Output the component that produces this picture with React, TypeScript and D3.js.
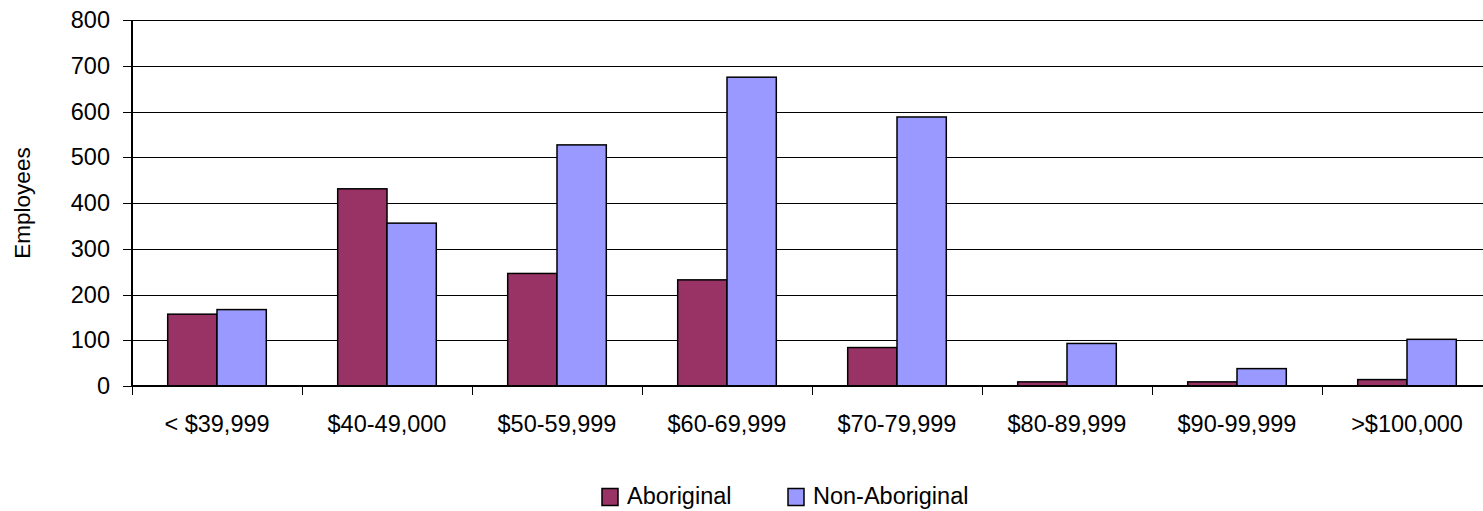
import React from "react";
import * as d3 from "d3";

const categories = ["< $39,999", "$40-49,000", "$50-59,999", "$60-69,999", "$70-79,999", "$80-89,999", "$90-99,999", ">$100,000"];
const aboriginal = [157, 431, 246, 232, 84, 9, 9, 14];
const nonAboriginal = [167, 356, 527, 675, 588, 93, 38, 102];
const yTicks = [0, 100, 200, 300, 400, 500, 600, 700, 800];
const seriesNames = ["Aboriginal", "Non-Aboriginal"];
const seriesColors = ["#993366", "#9999FF"];

export default function App() {
  const W = 1483, H = 511;
  const left = 132, top = 20, bottom = 386;
  const catW = 170;
  const fs = 23.5;
  const x = d3.scaleBand<string>().domain(categories).range([left, left + catW * categories.length]).paddingInner(0).paddingOuter(0);
  const y = d3.scaleLinear().domain([0, 800]).range([bottom, top]);
  const barW = x.bandwidth() * 0.29;
  const font = "'Liberation Sans', Arial, sans-serif";
  const series = [aboriginal, nonAboriginal];
  const plotRight = left + catW * categories.length;
  return (
    <svg width={W} height={H} style={{ position: "absolute", left: 0, top: 0, background: "#fff" }} fontFamily={font}>
      {yTicks.map((t) => (
        <g key={t}>
          {t > 0 && <line x1={left} x2={plotRight} y1={Math.round(y(t)) + 0.5} y2={Math.round(y(t)) + 0.5} stroke="#000" strokeWidth={1} />}
          <line x1={left - 9} x2={left} y1={Math.round(y(t)) + 0.5} y2={Math.round(y(t)) + 0.5} stroke="#000" strokeWidth={1} />
          <text x={110} y={y(t)} dy="0.35em" textAnchor="end" fontSize={fs} fill="#000">{t}</text>
        </g>
      ))}
      {categories.map((c, i) => (
        <g key={c}>
          {series.map((s, j) => {
            const bx = x(c)! + x.bandwidth() / 2 - barW + j * barW;
            return <rect key={j} x={bx} y={y(s[i])} width={barW} height={bottom - y(s[i])} fill={seriesColors[j]} stroke="#000" strokeWidth={1.5} />;
          })}
          <text x={x(c)! + x.bandwidth() / 2} y={432} textAnchor="middle" fontSize={fs} fill="#000">{c}</text>
        </g>
      ))}
      {d3.range(categories.length + 1).map((i) => (
        <line key={i} x1={left + i * catW + 0.5} x2={left + i * catW + 0.5} y1={bottom} y2={bottom + 9} stroke="#000" strokeWidth={1} />
      ))}
      <line x1={left} x2={left} y1={top} y2={bottom + 1} stroke="#000" strokeWidth={2} />
      <line x1={left - 1} x2={plotRight} y1={bottom} y2={bottom} stroke="#000" strokeWidth={2} />
      <text transform={`translate(30,${(top + bottom) / 2}) rotate(-90)`} textAnchor="middle" fontSize={fs - 1} fill="#000">Employees</text>
      {seriesNames.map((n, j) => {
        const lx = j === 0 ? 602 : 788;
        return (
          <g key={n}>
            <rect x={lx} y={488.5} width={16} height={17} fill={seriesColors[j]} stroke="#000" strokeWidth={1.5} />
            <text x={lx + 25} y={504} fontSize={fs} fill="#000">{n}</text>
          </g>
        );
      })}
    </svg>
  );
}
